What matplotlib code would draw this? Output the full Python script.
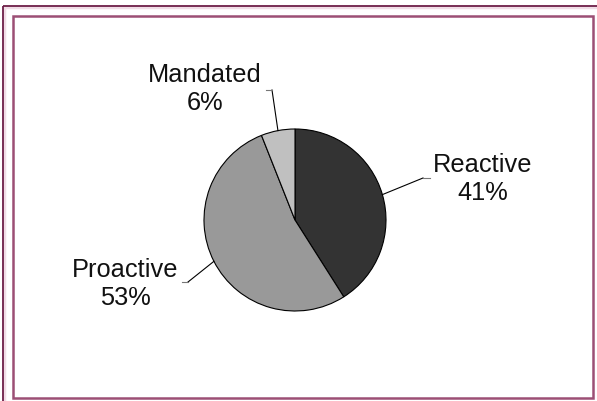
import numpy as np
import matplotlib
matplotlib.use("Agg")
import matplotlib.pyplot as plt
from matplotlib.patches import Rectangle

# ── Data ─────────────────────────────────────────────
labels = ["Reactive", "Proactive", "Mandated"]
shares = [41, 53, 6]
colors = ["#333333", "#999999", "#c0c0c0"]

# label placement (pixel coords, y from top)
label_pos = {"Reactive": (483, 179), "Proactive": (125, 284), "Mandated": (205, 89)}
elbows = {"Reactive": [(423, 179), (430, 179)],
          "Proactive": [(188, 283), (182, 283)],
          "Mandated": [(272, 91), (266, 91)]}

W, H = 597, 402
fig = plt.figure(figsize=(W / 100, H / 100), dpi=100, facecolor="white")
ax = fig.add_axes([0, 0, 1, 1])

cx, cy, r = 295, 221, 91
# y axis is flipped below, so counterclock in data = clockwise on screen
wedges, _ = ax.pie(shares, colors=colors, startangle=-90, counterclock=True,
                   center=(cx, cy), radius=r,
                   wedgeprops=dict(edgecolor="black", linewidth=0.8))

ax.set_xlim(0, W)
ax.set_ylim(H, 0)
ax.set_aspect("auto")
ax.axis("off")

for w, lab, val in zip(wedges, labels, shares):
    mid = np.deg2rad((w.theta1 + w.theta2) / 2)
    px, py = cx + r * np.cos(mid), cy + r * np.sin(mid)
    (ex, ey), (tx, ty) = elbows[lab]
    ax.plot([px, ex], [py, ey], color="black", lw=0.8)
    ax.plot([ex, tx], [ey, ty], color="#777777", lw=0.8)
    x, y = label_pos[lab]
    ax.text(x, y, f"{lab}\n{val}%", ha="center", va="center", fontsize=18.3,
            family="Liberation Sans", linespacing=1.2, color="#111111")

# frames: outer one runs off the right/bottom edge of the image
ax.add_patch(Rectangle((3.5, 7.5), 620, 420, fill=False, edgecolor="#f0dce6", lw=2.5))
ax.add_patch(Rectangle((3, 7), 620, 420, fill=False, edgecolor="#6e1f48", lw=1.3))
ax.add_patch(Rectangle((12.5, 16.5), 580.5, 382.5, fill=False, edgecolor="#9c4f75", lw=1.8))

fig.savefig("out.png", dpi=100, facecolor="white")
